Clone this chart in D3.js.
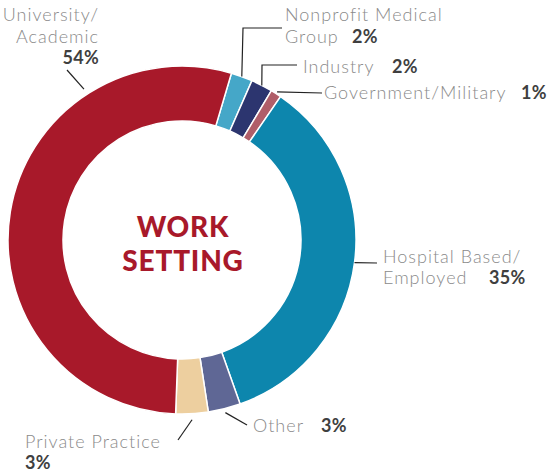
<!DOCTYPE html>
<html>
<head>
<meta charset="utf-8">
<script src="https://cdn.jsdelivr.net/npm/d3@7"></script>
<style>
  body { margin: 0; background: #fff; }
  svg { display: block; }
  .lbl { font-family: "Lato", "Open Sans", sans-serif; font-weight: 300; fill: #8a8a8a; font-size: 18px; letter-spacing: 1px; }
  .pct { font-family: "Lato", "Open Sans", sans-serif; font-weight: 700; fill: #3f3f3f; font-size: 18px; letter-spacing: 0.3px; }
  .center { font-family: "Lato", sans-serif; font-weight: 900; fill: #a8192a; font-size: 28px; letter-spacing: 0.8px; }
</style>
</head>
<body>
<svg id="chart" width="548" height="473"></svg>
<script>
// work setting shares, clockwise from the top
const categories = ["Nonprofit Medical Group", "Industry", "Government/Military",
  "Hospital Based/Employed", "Other", "Private Practice", "University/Academic"];
const values = [2, 2, 1, 35, 3, 3, 54];
const colors = ["#45a7c8", "#2c356f", "#b05e69", "#0d86ad", "#5f6795", "#edcf9f", "#a8192a"];

const width = 548, height = 473;
const cx = 182, cy = 240, outerR = 174, innerR = 119;
const rad = Math.PI / 180;

// label text, leader path (first point given as [angle, radius] on the ring)
const labelLayout = {
  "Nonprofit Medical Group": {
    leader: { at: [20.1, 174], pts: [[243, 28], [282, 28]] },
    lines: [{ x: 285, y: 21, t: "Nonprofit Medical" }, { x: 285, y: 43, t: "Group", px: 352 }],
    anchor: "start"
  },
  "Industry": {
    leader: { at: [27.3, 174], pts: [[262, 65], [297, 65]] },
    lines: [{ x: 303, y: 73, t: "Industry", px: 392 }],
    anchor: "start"
  },
  "Government/Military": {
    leader: { at: [32.7, 176], pts: [[322, 93]] },
    lines: [{ x: 324, y: 99, t: "Government/Military", px: 521 }],
    anchor: "start"
  },
  "Hospital Based/Employed": {
    leader: { at: [97.5, 174], pts: [[377, 263]] },
    lines: [{ x: 383, y: 263, t: "Hospital Based/" }, { x: 383, y: 284, t: "Employed", px: 489 }],
    anchor: "start"
  },
  "Other": {
    leader: { at: [165.9, 178], pts: [[247, 425]] },
    lines: [{ x: 253, y: 432, t: "Other", px: 321 }],
    anchor: "start"
  },
  "Private Practice": {
    leader: { at: [176.8, 180], pts: [[178, 440]] },
    lines: [{ x: 25, y: 448, t: "Private Practice" }, { x: 25, y: 469, t: "", px: 25 }],
    anchor: "start"
  },
  "University/Academic": {
    leader: { at: [327, 180], pts: [[67, 70]] },
    lines: [{ x: 99, y: 21, t: "University/" }, { x: 99, y: 43, t: "Academic" }, { x: 99, y: 64, t: "", px: 99 }],
    anchor: "end"
  }
};

const data = categories.map((c, i) => ({ name: c, value: values[i], color: colors[i] }));

const svg = d3.select("#chart");
const g = svg.append("g").attr("transform", `translate(${cx},${cy})`);

const pie = d3.pie()
  .value(d => d.value)
  .sort(null)
  .startAngle(16.5 * rad)
  .endAngle(16.5 * rad + 2 * Math.PI);

const arc = d3.arc().innerRadius(innerR).outerRadius(outerR);

g.selectAll("path.slice")
  .data(pie(data))
  .join("path")
  .attr("class", "slice")
  .attr("d", arc)
  .attr("fill", d => d.data.color)
  .attr("stroke", "#fff")
  .attr("stroke-width", 1.5);

// center title
g.append("text").attr("class", "center").attr("text-anchor", "middle")
  .attr("x", 1).attr("y", -3).text("WORK");
g.append("text").attr("class", "center").attr("text-anchor", "middle")
  .attr("x", 1).attr("y", 31).text("SETTING");

// leaders and labels
const line = d3.line();
data.forEach(d => {
  const lay = labelLayout[d.name];
  const [a, r] = lay.leader.at;
  const start = [cx + r * Math.sin(a * rad), cy - r * Math.cos(a * rad)];
  svg.append("path")
    .attr("d", line([start, ...lay.leader.pts]))
    .attr("fill", "none")
    .attr("stroke", "#222")
    .attr("stroke-width", 1.2);

  lay.lines.forEach(l => {
    if (l.t) {
      svg.append("text").attr("class", "lbl")
        .attr("x", l.x).attr("y", l.y)
        .attr("text-anchor", lay.anchor)
        .text(l.t);
    }
    if (l.px !== undefined) {
      svg.append("text").attr("class", "pct")
        .attr("x", l.px).attr("y", l.y)
        .attr("text-anchor", l.t ? "start" : lay.anchor)
        .text(d.value + "%");
    }
  });
});
</script>
</body>
</html>
